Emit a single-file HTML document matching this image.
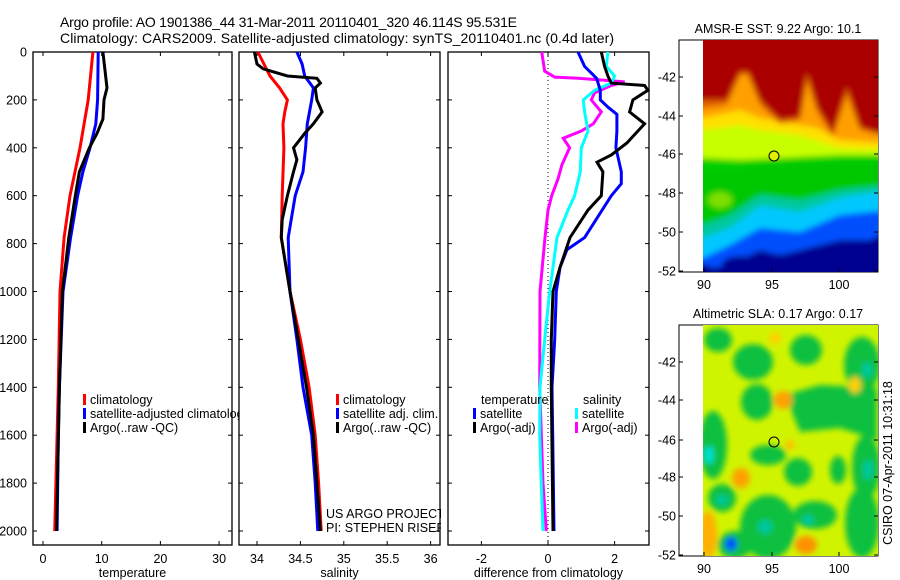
<!DOCTYPE html>
<html><head><meta charset="utf-8"><style>
html,body{margin:0;padding:0;background:#fff;}
svg{display:block;font-family:"Liberation Sans",sans-serif;}
</style></head><body>
<svg id="c" width="900" height="580" viewBox="0 0 900 580" xmlns="http://www.w3.org/2000/svg">
<defs>
<filter id="blur1" x="-20%" y="-20%" width="140%" height="140%"><feGaussianBlur stdDeviation="3"/></filter>
<filter id="blur2" x="-50%" y="-50%" width="200%" height="200%"><feGaussianBlur stdDeviation="3"/></filter>
<clipPath id="clipSST"><rect x="703" y="40" width="175" height="232"/></clipPath>
<clipPath id="clipSLA"><rect x="703" y="325" width="175" height="231"/></clipPath>
<clipPath id="clipP1"><rect x="0" y="0" width="239" height="580"/></clipPath>
<clipPath id="clipP2"><rect x="0" y="0" width="441" height="580"/></clipPath>
</defs>
<text x="60" y="27" font-size="14" textLength="457">Argo profile: AO 1901386_44 31-Mar-2011 20110401_320 46.114S 95.531E</text>
<text x="60" y="43" font-size="14" textLength="554">Climatology: CARS2009. Satellite-adjusted climatology: synTS_20110401.nc (0.4d later)</text>

<!-- SST map -->
<g>
<rect x="679" y="40" width="199" height="232" fill="#fff" stroke="#000"/>
<g clip-path="url(#clipSST)">
<g filter="url(#blur2)">
<rect x="695" y="30" width="195" height="260" fill="#000090"/>
<polygon fill="#0050ff" points="695,30 890,30 890,230 870,240 840,240 800,250 780,255 760,250 735,262 715,268 695,262"/>
<polygon fill="#00c8ff" points="695,30 890,30 890,210 840,215 800,232 760,228 730,245 703,258 695,258"/>
<polygon fill="#00c8a0" points="695,30 890,30 890,190 840,198 800,212 760,206 730,228 703,238 695,238"/>
<polygon fill="#00c800" points="695,30 890,30 890,185 840,190 800,200 760,195 730,215 703,225 695,225"/>
<polygon fill="#00d000" points="695,30 890,30 890,162 840,162 780,164 740,168 703,170 695,170"/>
<polygon fill="#c8ff00" points="695,30 890,30 890,155 840,155 780,158 740,160 703,158 695,158"/>
<polygon fill="#ffe000" points="695,30 890,30 890,150 840,148 800,135 760,130 740,125 703,130 695,130"/>
<polygon fill="#ffa000" points="695,30 890,30 890,143 840,140 817,128 800,125 760,118 740,110 703,118 695,118"/>
<polygon fill="#e06000" points="695,30 890,30 890,137 860,130 847,95 833,137 817,112 807,80 800,120 780,124 760,105 748,75 740,75 727,105 703,108 695,108"/>
<polygon fill="#aa0000" points="695,30 890,30 890,133 877,133 860,127 847,87 833,133 817,107 807,73 800,117 780,120 760,100 748,72 740,72 727,100 703,100 695,100"/>
<ellipse cx="740" cy="264" rx="18" ry="8" fill="#000090"/>
<ellipse cx="845" cy="258" rx="25" ry="14" fill="#000090"/>
<ellipse cx="720" cy="200" rx="12" ry="8" fill="#7ee000"/>
</g>
</g>
<circle cx="774" cy="156" r="5" fill="#e0f000" stroke="#000"/>
</g>
<text x="778" y="33" font-size="12.5" text-anchor="middle">AMSR-E SST: 9.22 Argo: 10.1</text>

<!-- SLA map -->
<g>
<rect x="679" y="325" width="199" height="231" fill="#fff" stroke="#000"/>
<g clip-path="url(#clipSLA)">
<rect x="703" y="325" width="175" height="231" fill="#d0f400"/>
<g filter="url(#blur1)">
<ellipse cx="753" cy="362" rx="20" ry="18" fill="#10c040"/>
<ellipse cx="718" cy="340" rx="14" ry="12" fill="#10c040"/>
<ellipse cx="806" cy="350" rx="16" ry="15" fill="#10c040"/>
<ellipse cx="862" cy="365" rx="18" ry="28" fill="#10c040"/>
<polygon points="785,395 820,385 877,388 877,440 840,428 800,432" fill="#10c040"/>
<ellipse cx="757" cy="402" rx="16" ry="18" fill="#10c040"/>
<ellipse cx="713" cy="445" rx="14" ry="34" fill="#10c040"/>
<ellipse cx="768" cy="455" rx="18" ry="10" fill="#10c040"/>
<ellipse cx="798" cy="472" rx="14" ry="14" fill="#10c040"/>
<ellipse cx="866" cy="467" rx="14" ry="32" fill="#10c040"/>
<ellipse cx="722" cy="498" rx="14" ry="14" fill="#10c040"/>
<ellipse cx="768" cy="527" rx="28" ry="32" fill="#10c040"/>
<ellipse cx="815" cy="515" rx="22" ry="14" fill="#10c040"/>
<ellipse cx="862" cy="523" rx="17" ry="35" fill="#10c040"/>
<ellipse cx="735" cy="545" rx="17" ry="14" fill="#10c040"/>
<ellipse cx="838" cy="470" rx="8" ry="14" fill="#10c040"/>
<ellipse cx="867" cy="370" rx="5" ry="8" fill="#00c8a0"/>
<ellipse cx="709" cy="455" rx="5" ry="9" fill="#00e0d0"/>
<ellipse cx="722" cy="500" rx="6" ry="5" fill="#00c8a0"/>
<ellipse cx="765" cy="527" rx="7" ry="7" fill="#00c8a0"/>
<ellipse cx="808" cy="520" rx="6" ry="5" fill="#00c8a0"/>
<ellipse cx="868" cy="470" rx="5" ry="10" fill="#00c8a0"/>
<ellipse cx="731" cy="544" rx="6" ry="7" fill="#0050ff"/>
<ellipse cx="783" cy="400" rx="9" ry="9" fill="#ffa000"/>
<ellipse cx="741" cy="478" rx="9" ry="10" fill="#ffa000"/>
<ellipse cx="806" cy="545" rx="11" ry="9" fill="#ff9000"/>
<ellipse cx="708" cy="535" rx="9" ry="24" fill="#ffb000"/>
<ellipse cx="855" cy="385" rx="6" ry="8" fill="#ffd000"/>
<ellipse cx="790" cy="445" rx="5" ry="5" fill="#ffc000"/>
<ellipse cx="775" cy="338" rx="6" ry="6" fill="#ffd000"/>
</g>
</g>
<circle cx="774" cy="442" r="5" fill="none" stroke="#000"/>
</g>
<text x="778" y="318" font-size="12.5" text-anchor="middle">Altimetric SLA: 0.17 Argo: 0.17</text>
<text transform="translate(892,463) rotate(-90)" font-size="12.5" text-anchor="middle">CSIRO 07-Apr-2011 10:31:18</text>

<g id="plots"></g>
</svg>
<script>
// ---- data ----
const depthTicks = [0,200,400,600,800,1000,1200,1400,1600,1800,2000];
const tempTicks = [0,10,20,30];
const salTicks = [34,34.5,35,35.5,36];
const diffTicks = [-2,0,2];

const tClimDepth = [0,200,400,600,775,1000,1400,1600,2000];
const tClimVal   = [8.5,7.7,6.3,4.6,3.6,2.9,2.6,2.4,2.0];
const tSatDepth  = [0,200,300,400,500,600,775,1000,1400,1600,2000];
const tSatVal    = [9.4,9.3,9.0,8.0,6.8,5.9,4.7,3.4,2.8,2.6,2.4];
const tArgoDepth = [0,150,200,280,340,400,500,600,775,1000,1400,2000];
const tArgoVal   = [10.2,10.9,10.4,10.2,9.2,7.9,6.2,5.5,4.4,3.3,2.8,2.3];

const sClimDepth = [0,100,150,200,250,300,400,600,775,1000,1200,1400,1600,1800,2000];
const sClimVal   = [34.01,34.15,34.26,34.35,34.32,34.30,34.31,34.29,34.28,34.38,34.5,34.6,34.67,34.71,34.74];
const sSatDepth  = [0,50,100,150,200,300,400,500,600,775,1000,1200,1400,1600,1800,2000];
const sSatVal    = [34.46,34.52,34.55,34.65,34.63,34.58,34.56,34.53,34.44,34.36,34.38,34.46,34.53,34.63,34.67,34.70];
const sArgoDepth = [0,50,70,100,110,130,150,200,250,300,340,400,450,500,600,700,775,1000,1400,1600,1800,2000];
const sArgoVal   = [33.97,34.0,34.07,34.35,34.69,34.73,34.67,34.69,34.75,34.65,34.55,34.42,34.46,34.42,34.35,34.29,34.28,34.38,34.57,34.65,34.69,34.73];

const dTSatDepth  = [0,60,110,160,200,230,260,330,400,500,550,600,775,825,900,1000,1200,1400,1600,2000];
const dTSatVal    = [0.9,1.1,1.46,1.57,1.57,1.8,2.07,2.07,2.04,2.2,2.2,1.9,1.1,0.57,0.36,0.25,0.2,0.12,0.14,0.18];
const dTArgoDepth = [0,60,100,130,140,160,200,250,300,330,380,430,460,500,600,660,775,900,1000,1200,1400,2000];
const dTArgoVal   = [1.6,1.7,1.8,1.9,2.9,3.0,2.55,2.45,2.9,2.7,2.37,1.9,1.47,1.65,1.6,1.2,0.66,0.36,0.15,0.1,0.1,0.15];
const dSSatDepth  = [0,60,100,130,160,200,250,330,400,500,600,660,775,1000,1200,1400,1600,1800,2000];
const dSSatVal    = [1.8,1.75,2.0,1.9,1.4,1.06,1.1,1.2,1.0,0.97,0.8,0.6,0.27,0.05,-0.1,-0.24,-0.25,-0.2,-0.15];
const dSArgoDepth = [0,80,105,110,118,125,140,170,200,250,300,330,360,400,470,530,600,660,775,1000,1400,1800,2000];
const dSArgoVal   = [-0.19,-0.1,0.2,0.9,1.7,2.3,1.9,1.4,1.3,1.6,1.36,1.0,0.46,0.65,0.42,0.3,0.11,0.0,-0.09,-0.24,-0.25,-0.15,-0.05];

// ---- scales ----
const NS = 'http://www.w3.org/2000/svg';
const root = document.getElementById('plots');
const yD = d => 52 + d * 0.2395;
const panels = [
  {name:'temperature', x0:33, x1:232, v0:0, p0:43, k:5.87, ticks:tempTicks, label:'temperature'},
  {name:'salinity', x0:239, x1:440, v0:34, p0:257, k:86.8, ticks:salTicks, label:'salinity'},
  {name:'difference', x0:448, x1:649, v0:0, p0:548, k:33.3, ticks:diffTicks, label:'difference from climatology'}
];
panels.forEach(p => { p.sx = v => p.p0 + (v - p.v0) * p.k; });

function mk(tag, attrs, parent) {
  const e = document.createElementNS(NS, tag);
  for (const a in attrs) e.setAttribute(a, attrs[a]);
  (parent || root).appendChild(e);
  return e;
}
function line(p, depths, vals, color, name, w) {
  const pts = depths.map((d,i) => p.sx(vals[i]).toFixed(1) + ',' + yD(d).toFixed(1)).join(' ');
  const e = mk('polyline', {points: pts, fill:'none', stroke: color, 'stroke-width': w || 3, 'stroke-linejoin':'miter'});
  
  
}

panels.forEach((p, pi) => {
  const frame = mk('rect', {x:p.x0, y:52, width:p.x1-p.x0, height:493, fill:'none', stroke:'#000', 'stroke-width':1.3});
  
  
  depthTicks.forEach(d => {
    const y = yD(d);
    const t1 = mk('line', {x1:p.x0, x2:p.x0+4, y1:y, y2:y, stroke:'#000'});
    
    
    const t2 = mk('line', {x1:p.x1-4, x2:p.x1, y1:y, y2:y, stroke:'#000'});
    
    
    if (pi === 0) {
      const tl = mk('text', {x:27, y:y+4.5, 'font-size':12.5, 'text-anchor':'end'});
      tl.textContent = d;
      
      
    }
  });
  p.ticks.forEach(v => {
    const x = p.sx(v);
    const a = mk('line', {x1:x, x2:x, y1:52, y2:56, stroke:'#000'});
    
    
    const b = mk('line', {x1:x, x2:x, y1:541, y2:545, stroke:'#000'});
    
    
    const tl = mk('text', {x:x, y:563, 'font-size':12.5, 'text-anchor':'middle'});
    tl.textContent = v;
    
    
  });
  const xl = mk('text', {x:(p.x0+p.x1)/2, y:577, 'font-size':12.5, 'text-anchor':'middle'});
  xl.textContent = p.label;
  
  
});

// zero line
const zl = mk('line', {x1:panels[2].sx(0), x2:panels[2].sx(0), y1:52, y2:545, stroke:'#000', 'stroke-dasharray':'1,3'});



// series
line(panels[0], tClimDepth, tClimVal, '#ff0000', 'temp-climatology-line');
line(panels[0], tSatDepth, tSatVal, '#0000ff', 'temp-satellite-line');
line(panels[0], tArgoDepth, tArgoVal, '#000000', 'temp-argo-line');
line(panels[1], sClimDepth, sClimVal, '#ff0000', 'sal-climatology-line');
line(panels[1], sSatDepth, sSatVal, '#0000ff', 'sal-satellite-line');
line(panels[1], sArgoDepth, sArgoVal, '#000000', 'sal-argo-line');
line(panels[2], dSArgoDepth, dSArgoVal, '#ff00ff', 'diff-sal-argo-line');
line(panels[2], dSSatDepth, dSSatVal, '#00ffff', 'diff-sal-satellite-line');
line(panels[2], dTSatDepth, dTSatVal, '#0000ff', 'diff-temp-satellite-line');
line(panels[2], dTArgoDepth, dTArgoVal, '#000000', 'diff-temp-argo-line');

// legends
function legend(x, y, color, label, clip, name) {
  const g = mk('g', clip ? {'clip-path': clip} : {});
  
  
  if (color) {
    const r = mk('rect', {x:x, y:y-10, width:3, height:11, fill:color}, g);
    
    
  }
  const t = mk('text', {x:x+7, y:y, 'font-size':12.5}, g);
  t.textContent = label;
  
  
}
legend(83, 404, '#ff0000', 'climatology', 'url(#clipP1)', 'legend-entry-climatology');
legend(83, 418, '#0000ff', 'satellite-adjusted climatology', 'url(#clipP1)', 'legend-entry-satellite');
legend(83, 432, '#000000', 'Argo(..raw -QC)', 'url(#clipP1)', 'legend-entry-argo');
legend(336, 404, '#ff0000', 'climatology', null, 'legend-entry-climatology');
legend(336, 418, '#0000ff', 'satellite adj. clim.', null, 'legend-entry-satellite');
legend(336, 432, '#000000', 'Argo(..raw -QC)', null, 'legend-entry-argo');
legend(474, 404, null, 'temperature', null, 'legend-header-temperature');
legend(473, 418, '#0000ff', 'satellite', null, 'legend-entry-temp-satellite');
legend(473, 432, '#000000', 'Argo(-adj)', null, 'legend-entry-temp-argo');
legend(576, 404, null, 'salinity', null, 'legend-header-salinity');
legend(575, 418, '#00ffff', 'satellite', null, 'legend-entry-sal-satellite');
legend(575, 432, '#ff00ff', 'Argo(-adj)', null, 'legend-entry-sal-argo');
legend(319, 518, null, 'US ARGO PROJECT', 'url(#clipP2)', 'project-credit');
legend(319, 532, null, 'PI: STEPHEN RISER', 'url(#clipP2)', 'pi-credit');

// map axes
function mapAxes(top, bottom, latY, name) {
  const lats = [-42,-44,-46,-48,-50,-52];
  const lons = [90,95,100];
  const lonX = [704,772,839];
  lats.forEach((l,i) => {
    const y = latY[i];
    const a = mk('line', {x1:679, x2:683, y1:y, y2:y, stroke:'#000'});
    
    
    const b = mk('line', {x1:874, x2:878, y1:y, y2:y, stroke:'#000'});
    
    
    const t = mk('text', {x:676, y:y+4.5, 'font-size':12.5, 'text-anchor':'end'});
    t.textContent = l;
    
    
  });
  lons.forEach((l,i) => {
    const x = lonX[i];
    const a = mk('line', {x1:x, x2:x, y1:bottom-4, y2:bottom, stroke:'#000'});
    
    
    const t = mk('text', {x:x, y:bottom+17, 'font-size':12.5, 'text-anchor':'middle'});
    t.textContent = l;
    
    
  });
}
mapAxes(40, 272, [77,116,154,193,232,271], 'sst-map');
mapAxes(325, 556, [362,400,440,477,516,555], 'sla-map');
</script>
</body></html>
